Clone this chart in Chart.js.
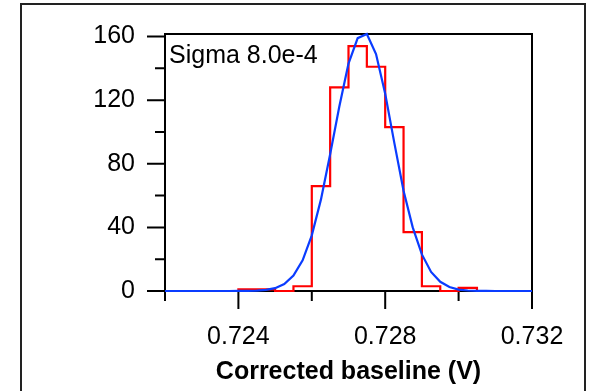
<!DOCTYPE html>
<html>
<head>
<meta charset="utf-8">
<script src="https://cdn.jsdelivr.net/npm/chart.js@4/dist/chart.umd.min.js"></script>
<style>
  html, body { margin: 0; padding: 0; background: #fff; }
  #wrap { width: 592px; height: 391px; }
</style>
</head>
<body>
<div id="wrap"><canvas id="chart1" width="592" height="391"></canvas></div>
<script>
// histogram: left bin edges and counts (last edge closes the final bin)
const binEdges = [0.7220, 0.7225, 0.7230, 0.7235, 0.7240, 0.7245, 0.7250, 0.7255, 0.7260, 0.7265,
                  0.7270, 0.7275, 0.7280, 0.7285, 0.7290, 0.7295, 0.7300, 0.7305, 0.7310, 0.7315, 0.7320];
const binCounts = [0, 0, 0, 0, 1, 1, 0, 3, 66, 128,
                   154, 141, 103, 37, 3, 0, 2, 0, 0, 0, 0];

// gaussian fit curve
const fitX = [0.72200, 0.72225, 0.72250, 0.72275, 0.72300, 0.72325, 0.72350, 0.72375, 0.72400, 0.72425,
              0.72450, 0.72475, 0.72500, 0.72525, 0.72550, 0.72575, 0.72600, 0.72625, 0.72650, 0.72675,
              0.72700, 0.72725, 0.72750, 0.72775, 0.72800, 0.72825, 0.72850, 0.72875, 0.72900, 0.72925,
              0.72950, 0.72975, 0.73000, 0.73025, 0.73050, 0.73075, 0.73100, 0.73125, 0.73150, 0.73175, 0.73200];
const fitY = [0, 0, 0, 0, 0, 0, 0, 0.01, 0.02, 0.07,
              0.23, 0.67, 1.8, 4.4, 9.7, 19.3, 35, 57.6, 86, 116,
              143, 159, 161.6, 149, 124, 93, 63, 40, 23, 12,
              5.8, 2.5, 0.9, 0.3, 0.1, 0.03, 0.01, 0, 0, 0, 0];

const xTicks = [0.722, 0.724, 0.726, 0.728, 0.730, 0.732];
const xTickLabels = ['0.724', '0.728', '0.732'];
const yTicks = [0, 20, 40, 60, 80, 100, 120, 140, 160];
const yTickLabels = ['0', '40', '80', '120', '160'];

const sigmaText = 'Sigma 8.0e-4';
const xTitle = 'Corrected baseline (V)';

const FONT = "'Liberation Sans', Arial, sans-serif";

function xLabel(v) {
    const s = v.toFixed(3);
    return xTickLabels.includes(s) ? s : '';
}
function yLabel(v) {
    const s = String(Math.round(v));
    return yTickLabels.includes(s) ? s : '';
}

function noPad(s) {
    s.paddingLeft = 0;
    s.paddingRight = 0;
    s.paddingTop = 0;
    s.paddingBottom = 0;
}

const framePlugin = {
    id: 'frame',
    beforeDraw(chart) {
        const ctx = chart.ctx;
        ctx.save();
        ctx.fillStyle = '#fff';
        ctx.fillRect(0, 0, chart.width, chart.height);
        ctx.strokeStyle = '#222';
        ctx.lineWidth = 2;
        ctx.strokeRect(21, 4, 564, 420);
        ctx.restore();
    },
    beforeDatasetsDraw(chart) {
        const ctx = chart.ctx;
        const a = chart.chartArea;
        const xs = chart.scales.x, ys = chart.scales.y;
        ctx.save();
        ctx.strokeStyle = '#000';
        ctx.lineWidth = 2;
        ctx.strokeRect(a.left, a.top, a.right - a.left, a.bottom - a.top);
        ctx.beginPath();
        xs.ticks.forEach(t => {
            const px = xs.getPixelForValue(t.value);
            const len = xLabel(t.value) ? 18 : 10;
            ctx.moveTo(px, a.bottom);
            ctx.lineTo(px, a.bottom + len);
        });
        ys.ticks.forEach(t => {
            const py = ys.getPixelForValue(t.value);
            const len = yLabel(t.value) ? 18 : 10;
            ctx.moveTo(a.left, py);
            ctx.lineTo(a.left - len, py);
        });
        ctx.stroke();

        ctx.fillStyle = '#000';
        ctx.font = '25px ' + FONT;
        ctx.textBaseline = 'alphabetic';
        ctx.textAlign = 'left';
        ctx.fillText(sigmaText, a.left + 4, a.top + 29);
        ctx.restore();
    }
};

new Chart(document.getElementById('chart1'), {
    type: 'line',
    data: {
        datasets: [{
            label: 'fit',
            data: fitX.map((x, i) => ({ x: x, y: fitY[i] })),
            borderColor: '#0a3cff',
            borderWidth: 2.2,
            pointRadius: 0,
            tension: 0,
            clip: false,
            order: 0
        }, {
            label: 'histogram',
            data: binEdges.map((x, i) => ({ x: x, y: binCounts[i] })),
            borderColor: '#ff0000',
            borderWidth: 2.2,
            pointRadius: 0,
            stepped: 'before',
            clip: false,
            order: 1
        }]
    },
    options: {
        responsive: false,
        animation: false,
        events: [],
        layout: { padding: { left: 0, top: 34, right: 60, bottom: 0 } },
        plugins: { legend: { display: false }, tooltip: { enabled: false } },
        scales: {
            x: {
                type: 'linear',
                min: 0.722,
                max: 0.732,
                afterBuildTicks: s => { s.ticks = xTicks.map(v => ({ value: v })); },
                afterFit: s => { s.height = 100; noPad(s); },
                grid: { display: false, drawTicks: false },
                border: { display: false },
                ticks: {
                    autoSkip: false,
                    maxRotation: 0,
                    padding: 31,
                    color: '#000',
                    font: { family: FONT, size: 25 },
                    callback: v => xLabel(v)
                },
                title: {
                    display: true,
                    text: xTitle,
                    color: '#000',
                    font: { family: FONT, size: 25, weight: 'bold', lineHeight: 1.2 },
                    padding: { top: 0, bottom: 4 }
                }
            },
            y: {
                type: 'linear',
                min: 0,
                max: 161.6,
                afterBuildTicks: s => { s.ticks = yTicks.map(v => ({ value: v })); },
                afterFit: s => { s.width = 165; noPad(s); },
                grid: { display: false, drawTicks: false },
                border: { display: false },
                ticks: {
                    autoSkip: false,
                    padding: 30,
                    color: '#000',
                    font: { family: FONT, size: 25 },
                    callback: v => yLabel(v)
                }
            }
        }
    },
    plugins: [framePlugin]
});
</script>
</body>
</html>
